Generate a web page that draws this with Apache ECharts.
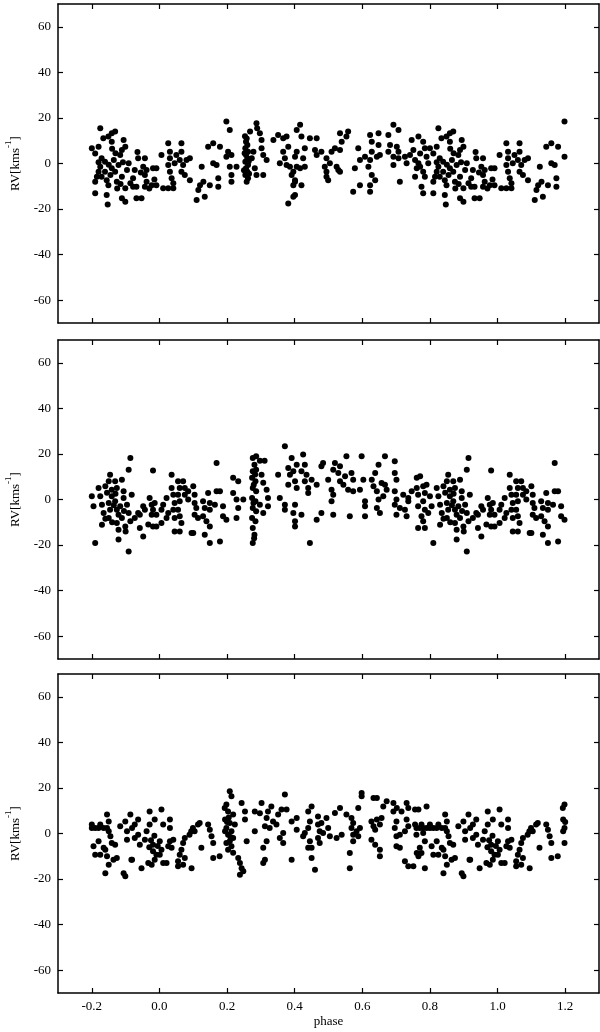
<!DOCTYPE html>
<html>
<head>
<meta charset="utf-8">
<script src="https://cdn.jsdelivr.net/npm/echarts@6/dist/echarts.min.js"></script>
<style>html,body{margin:0;padding:0;background:#fff}#c{width:600px;height:1032px}</style>
</head>
<body>
<div id="c"></div>
<script>
// Tick labels
const xTicks = [-0.2, 0.0, 0.2, 0.4, 0.6, 0.8, 1.0, 1.2];
const yTicks = [-60, -40, -20, 0, 20, 40, 60];

// Phased radial velocities [phase (0..1), RV km/s]
const panel1 = [
[0.006,3.7],[0.011,-10.9],[0.026,-10.9],[0.041,-10.9],[0.026,8.9],[0.031,5.2],[0.031,2.3],[0.026,-0.7],[0.031,-3.6],[0.036,-6.5],[0.041,-8.7],[0.045,0.1],[0.050,3.7],[0.065,8.9],[0.065,5.2],[0.060,1.5],[0.070,-0.7],[0.080,1.5],[0.090,2.3],[0.065,-3.6],[0.075,-5.1],[0.090,-7.3],[0.110,-16],[0.115,-11.6],[0.120,-9.5],[0.130,-8],[0.134,-14.6],[0.125,-1.4],[0.149,-9.5],[0.144,7.4],[0.159,8.9],[0.179,7.4],[0.159,0.1],[0.169,-0.7],[0.174,-6.5],[0.174,-10.2],[0.198,18.4],[0.208,14.7],[0.203,5.2],[0.198,3],[0.213,3.7],[0.208,-1.4],[0.213,-5.1],[0.213,-8],[0.228,-1.4],
[0.253,12],[0.258,11],[0.256,9.6],[0.260,8.1],[0.254,6.7],[0.262,5.2],[0.256,3.7],[0.260,2.3],[0.254,0.8],[0.262,-0.7],[0.256,-2.1],[0.260,-3.6],[0.254,-5.1],[0.262,-6.5],[0.258,-8],[0.252,4.5],[0.264,1],[0.250,-3],[0.265,-4.5],
[0.268,14],[0.273,2.3],[0.278,5.2],[0.282,-2.1],[0.287,17.7],[0.289,15.5],[0.297,13.3],[0.302,10.3],[0.302,6.7],[0.307,3.7],[0.307,-5.1],[0.287,-5.1],[0.317,1.5],[0.337,10.3],[0.351,12.5],[0.366,11.1],[0.376,11.8],[0.381,7.4],[0.366,5.2],[0.371,2.3],[0.356,0.1],[0.376,-0.7],[0.386,-1.4],[0.396,-3.6],[0.391,-5.1],[0.401,-7.3],[0.396,-9.5],[0.381,-17.5],[0.396,-14.6],
[0.406,14.7],[0.416,17],[0.406,5.2],[0.401,3],[0.420,11.8],[0.430,6.7],[0.425,2.3],[0.430,-1.4],[0.401,-8],[0.401,-13.8],[0.420,-9.5],[0.406,-1.4],[0.416,-2.1],[0.445,11.1],[0.465,11.1],[0.460,5.9],[0.465,3.7],[0.479,5.2],[0.494,2.3],[0.489,-1.4],[0.494,-3.6],[0.494,-5.8],[0.499,-7.3],[0.504,0.1],[0.509,5.2],[0.519,6.7],[0.534,5.9],[0.539,9.6],[0.534,13.3],[0.558,14],[0.553,11.8],[0.524,-1.4],[0.529,-2.9],[0.534,-3.6],[0.578,-2.1],[0.588,6.7],[0.593,1.5],[0.593,-9.5],[0.573,-12.4],[0.608,3],[0.623,12.5],[0.628,9.6],[0.628,5.2],[0.623,1.5],[0.618,-1.4],[0.628,-5.1],[0.623,-9.5],[0.623,-12.4],[0.638,-7.3],[0.648,13.3],[0.648,8.1],[0.643,3],[0.652,3.7],[0.677,12.5],[0.692,17],[0.707,14.7],[0.682,8.1],[0.677,5.2],[0.692,3],[0.702,7.4],[0.707,5.2],[0.692,-0.7],[0.707,2.3],[0.711,-8],[0.726,3],[0.731,0.1],[0.741,3.7],[0.746,10.3],[0.751,5.9],[0.766,11.8],[0.756,1.5],[0.766,0.1],[0.771,4.4],[0.780,9.6],[0.785,6.7],[0.790,3],[0.795,0.1],[0.761,-2.1],[0.771,-1.4],[0.780,-3.6],[0.785,-5.8],[0.756,-5.8],[0.775,-10.2],[0.780,-13.1],
[0.800,6.7],[0.810,4.4],[0.820,7.4],[0.825,15.5],[0.834,11.1],[0.849,11.8],[0.859,13.3],[0.869,14],[0.859,9.6],[0.829,2.3],[0.839,0.8],[0.825,-1.4],[0.820,-3.6],[0.815,-5.8],[0.810,-8],[0.810,-13.1],[0.829,-5.8],[0.839,-3.6],[0.844,-7.3],[0.849,-9.5],[0.844,-13.8],[0.847,-18],[0.859,-2.1],[0.869,-3.6],[0.874,-8],[0.879,-0.7],[0.884,3.7],[0.889,5.9],[0.894,10.3],[0.899,7.4],[0.889,-5.8],[0.899,-10.9],[0.889,-15.3],[0.904,-2.9],[0.909,0.1],[0.914,-8.7],[0.899,-16.8],
[0.855,-5],[0.865,1.5],[0.875,-11],[0.885,-9],[0.870,4.5],[0.892,0.5],[0.850,-0.5],[0.820,0.5],[0.860,6.5],
[0.922,-6.5],[0.922,-10.2],[0.932,-10.2],[0.932,-15.3],[0.947,-15.3],[0.937,2.3],[0.957,2.3],[0.952,-1.4],[0.962,-2.9],[0.957,-5.1],[0.981,-2.1],[0.991,-2.1],[0.962,-8],[0.977,-9.5],[0.957,-10.2],[0.991,-9.5],[0.927,-2.9],[0.935,5],[0.945,-4],[0.970,-11],[0.985,-7]
];

const panel2 = [
[0.006,-10.3],[0.011,-2.3],[0.006,-4.5],[0.021,0.7],[0.021,-8.1],[0.026,-5.9],[0.036,10.9],[0.036,5],[0.041,2.1],[0.045,-1.5],[0.041,-4.5],[0.045,-8.1],[0.045,-14],[0.055,8],[0.060,5],[0.055,2.1],[0.060,-0.8],[0.055,-4.5],[0.060,-7.4],[0.065,-10.3],[0.060,-14],[0.070,8],[0.075,5],[0.075,2.1],[0.085,0],[0.085,3.6],[0.100,5.8],[0.104,2.1],[0.104,-1.5],[0.109,-3.7],[0.104,-6.7],[0.114,-8.1],[0.095,-14.7],[0.100,-14.7],[0.129,-0.8],[0.134,-3.7],[0.129,-7.4],[0.144,2.9],[0.149,-1.5],[0.149,-4.5],[0.139,-9.6],[0.149,-11.8],[0.134,-15.5],[0.149,-19.1],[0.169,16],[0.169,3.6],[0.179,3.6],[0.164,-2.3],[0.188,-3],[0.188,-7.4],[0.179,-18.4],[0.198,-8.9],[0.218,9.5],[0.233,8],[0.218,2.9],[0.228,0],[0.233,-3.7],[0.228,-8.1],[0.248,0],
[0.276,18.2],[0.286,19],[0.281,15.3],[0.276,12.4],[0.286,13.1],[0.274,9.5],[0.284,8],[0.276,5],[0.286,3.6],[0.274,0.7],[0.284,-0.8],[0.276,-3.7],[0.286,-5.2],[0.274,-8.1],[0.284,-9.6],[0.276,-12.5],[0.281,-15.5],[0.276,-19.1],[0.280,-17],[0.283,11],[0.278,-1.5],[0.279,6.5],
[0.297,17],[0.311,17],[0.302,10.9],[0.307,7.3],[0.317,4.3],[0.321,0.7],[0.321,-3],[0.307,-5.9],[0.297,-2.3],[0.351,10.9],[0.356,0.7],[0.371,23.4],[0.371,-2.3],[0.371,-4.5],[0.381,13.8],[0.391,18.2],[0.386,10.9],[0.396,12.4],[0.381,6.5],[0.401,8],[0.406,5],[0.401,-2.3],[0.396,-5.9],[0.401,-9.6],[0.401,-11.8],[0.406,15.3],
[0.420,-6.7],[0.425,19.7],[0.430,15.3],[0.420,12.4],[0.435,10.9],[0.430,8],[0.440,5],[0.450,8.7],[0.465,6.5],[0.440,2.9],[0.445,-19.1],[0.465,-8.9],[0.479,-5.9],[0.484,16],[0.479,14.6],[0.499,8.7],[0.509,-0.8],[0.514,2.1],[0.509,4.3],[0.514,-6.7],[0.514,13.1],[0.519,16],[0.529,11.6],[0.534,14.6],[0.534,8],[0.544,6.5],[0.553,19],[0.549,10.2],[0.558,4.3],[0.568,11.6],[0.573,8.7],[0.573,3.6],[0.563,-7.4],[0.593,4.3],[0.598,19],[0.603,8.7],[0.608,-0.8],[0.608,-3],[0.608,-7.4],[0.628,8.7],[0.633,5.8],[0.638,11.6],[0.648,15.3],[0.643,3.6],[0.648,0],[0.643,-3.7],[0.652,-5.9],[0.657,7.2],[0.667,19],[0.667,6.5],[0.662,1.4],[0.672,4.3],[0.696,16.8],[0.696,11.6],[0.701,8.7],[0.696,3.6],[0.701,0],[0.696,-2.3],[0.711,-3.7],[0.721,2.1],[0.701,-6.7],[0.726,-4.5],[0.736,0.7],[0.736,-0.8],[0.746,3.6],[0.731,-7.4],[0.761,9.5],[0.771,10.2],[0.761,5],[0.765,2.1],[0.765,-3],[0.780,5.8],[0.785,2.9],[0.780,-0.8],[0.785,-4.5],[0.775,-7.4],[0.780,-9.6],[0.765,-12.5],[0.785,-12.5],[0.790,6.5],
[0.800,1.4],[0.805,-3],[0.795,-5.9],[0.810,-19.1],[0.820,5],[0.825,1.4],[0.830,-2.3],[0.835,-5.9],[0.830,-11.1],[0.840,5.8],[0.850,8],[0.854,10.9],[0.859,4.3],[0.859,1.4],[0.850,-1.5],[0.854,-4.5],[0.850,-8.1],[0.869,8],[0.874,5],[0.869,-0.8],[0.874,-4.5],[0.879,-6.7],[0.874,-10.3],[0.879,-13.3],[0.879,-17.6],[0.889,8.7],[0.894,3.6],[0.894,0.7],[0.889,-8.1],[0.899,-11.8],[0.909,13.1],[0.914,18.2],[0.904,-2.3],[0.909,-5.9],[0.914,-9.6],[0.909,-22.8],[0.918,2.1],
[0.860,-10],[0.865,-2.5],[0.884,-3],[0.870,2.5],[0.845,3],[0.895,-5],[0.900,-14],[0.840,-8.5],
[0.937,-5.9],[0.927,-8.1],[0.942,-6.7],[0.942,-12.5],[0.952,-16.2],[0.952,-3],[0.957,-4.5],[0.971,0.7],[0.967,-11],[0.977,-2.3],[0.981,-4.5],[0.986,-1.5],[0.991,-6.7],[0.981,-11.8],[0.991,-11.8],[0.977,-6.7],[0.981,12.7]
];

const panel3 = [
[0.001,-3.4],[0.001,-9.3],[0.006,10.5],[0.011,3.9],[0.006,-7.1],[0.011,-13],[0.021,-13],[0.026,-5.6],[0.031,6.1],[0.031,2.4],[0.031,-3.4],[0.036,-6.3],[0.041,-2.7],[0.055,-14.4],[0.055,-12.2],[0.060,-9.3],[0.065,-7.1],[0.070,-4.2],[0.075,-2],[0.089,-0.5],[0.094,1],[0.099,2.4],[0.104,1],[0.114,3.9],[0.119,4.6],[0.124,-6.3],[0.095,-15.2],[0.070,-13.7],[0.075,-10.8],[0.144,3.9],[0.149,1.7],[0.154,-1.2],[0.159,-4.2],[0.159,-10.8],[0.178,-10],[0.193,11.2],
[0.208,18.5],[0.213,16.3],[0.198,12.7],[0.203,9.7],[0.218,8.3],[0.194,6.1],[0.208,4.6],[0.223,3.9],[0.198,2.4],[0.213,1],[0.203,-0.5],[0.218,-2],[0.198,-4.2],[0.213,-5.6],[0.203,-7.1],[0.218,-8.5],[0.208,-3.4],[0.194,1],[0.205,7],[0.210,-1.5],[0.200,5],
[0.233,-10.8],[0.238,-13],[0.243,-15.2],[0.238,-18.1],[0.248,-16.6],[0.243,13.4],[0.253,9.7],[0.253,6.1],[0.258,-3.4],[0.282,9.7],[0.282,1],[0.297,8.9],[0.302,13.4],[0.307,-6.3],[0.317,-3.4],[0.312,3.2],[0.317,6.8],[0.321,9.7],[0.331,11.9],[0.326,2.4],[0.336,5.3],[0.346,3.9],[0.351,8.3],[0.361,10.5],[0.371,17.1],[0.376,10.5],[0.366,0.2],[0.356,-2],[0.366,-4.2],[0.307,-13],[0.312,-11.5],[0.391,5.3],[0.391,-11.5],[0.406,1.7],[0.406,6.8],
[0.440,9.7],[0.450,11.9],[0.445,5.3],[0.440,2.4],[0.430,0.2],[0.425,-1.2],[0.445,-3.4],[0.440,-6.3],[0.450,-6.3],[0.450,-10.8],[0.460,-15.9],[0.469,7.5],[0.469,3.9],[0.474,1],[0.469,-2],[0.474,-4.2],[0.479,4.6],[0.484,0.2],[0.494,6.8],[0.499,2.4],[0.504,-1.2],[0.519,9],[0.534,11.2],[0.524,-2],[0.539,-0.5],[0.553,8.3],[0.563,-8.6],[0.563,-15.2],[0.568,6.8],[0.573,4.6],[0.568,2.4],[0.573,-0.5],[0.573,-3.4],[0.583,1],[0.588,-1.2],[0.593,2.4],[0.588,11.2],[0.598,17.8],[0.598,16.3],[0.627,-2.7],[0.627,5.3],[0.633,15.6],[0.643,15.6],[0.633,3.2],[0.638,1.7],[0.643,6.1],[0.652,3.9],[0.657,6.8],[0.662,11.9],[0.638,-4.9],[0.652,-7.1],[0.652,-10],[0.672,14.1],[0.692,13.4],[0.692,9.7],[0.702,11.2],[0.716,9.7],[0.731,13.4],[0.736,11.2],[0.701,5.3],[0.696,2.4],[0.701,-1.2],[0.711,-0.5],[0.731,6.1],[0.736,3.2],[0.726,1],[0.701,-5.6],[0.711,-6.3],[0.726,-12.2],[0.736,-14.4],[0.751,-14.4],[0.756,10.5],[0.766,10.5],[0.790,11.9],[0.756,3.9],[0.760,2.4],[0.770,2.4],[0.780,2.4],[0.790,2.4],
[0.800,2.4],[0.810,2.4],[0.820,2.4],[0.835,2.4],[0.845,2.4],[0.775,3.9],[0.800,3.9],[0.825,3.9],[0.850,5.3],[0.845,8.3],[0.850,1],[0.760,-0.5],[0.780,0.2],[0.785,-3.4],[0.770,-6.3],[0.761,-8.6],[0.766,-10],[0.775,-8.6],[0.785,-15.2],[0.805,-5.6],[0.820,-3.4],[0.810,-9.3],[0.825,-9.3],[0.835,-6.3],[0.840,-7.1],[0.845,-10],[0.855,-1.2],[0.859,-4.2],[0.869,-4.9],[0.850,-13.7],[0.864,-11.5],[0.874,-10.8],[0.840,-17.4],[0.884,3.2],[0.899,5.3],[0.904,1],[0.904,-2.7],[0.914,8.3],[0.919,2.4],[0.919,-11.5],[0.894,-17.4],[0.899,-18.8],
[0.927,3.9],[0.937,6.1],[0.937,-0.5],[0.942,-4.9],[0.927,-2],[0.917,-11.5],[0.947,-15.2],[0.957,-2.7],[0.962,1],[0.971,9.7],[0.971,3.9],[0.967,-13],[0.977,-13.7],[0.981,-4.9],[0.986,6.1],[0.981,-7.8],[0.991,-9.3],[0.986,-11.5],[0.975,-3],[0.985,-1],[0.995,-5.5],[0.970,-6]
];

const panels = [panel1, panel2, panel3];

// Phase plot: phases 0.8..1.0 are also shown at -0.2..0.0 and 0.0..0.2 at 1.0..1.2
function unfold(base) {
  const out = [];
  base.forEach(([p, v]) => {
    out.push([p, v]);
    if (p >= 0.8) out.push([p - 1, v]);
    if (p <= 0.2) out.push([p + 1, v]);
  });
  return out;
}

const FONT = 'Liberation Serif';
const gridTops = [4, 340, 674];
const grids = [], xAxes = [], yAxes = [], series = [];
const lineStyle = { color: '#000', width: 1.5 };
const tickStyle = { color: '#000', width: 1.2 };

panels.forEach((base, i) => {
  grids.push({ left: 58, right: 1, top: gridTops[i], height: 319, containLabel: false, outerBoundsMode: 'none' });
  const last = i === panels.length - 1;
  ['bottom', 'top'].forEach((pos, k) => {
    xAxes.push({
      gridIndex: i, type: 'value', position: pos, min: -0.3, max: 1.3,
      axisLine: { show: true, onZero: false, lineStyle },
      axisTick: { show: true, inside: true, length: 5, customValues: xTicks, lineStyle: tickStyle },
      axisLabel: { show: last && k === 0, customValues: xTicks, formatter: v => v.toFixed(1),
        fontFamily: FONT, fontSize: 13, color: '#000', margin: 7 },
      splitLine: { show: false },
      name: (last && k === 0) ? 'phase' : '', nameLocation: 'middle', nameGap: 22,
      nameTextStyle: { fontFamily: FONT, fontSize: 13, color: '#000' }
    });
  });
  ['left', 'right'].forEach((pos, k) => {
    yAxes.push({
      gridIndex: i, type: 'value', position: pos, min: -70, max: 70,
      axisLine: { show: true, onZero: false, lineStyle },
      axisTick: { show: true, inside: true, length: 5, customValues: yTicks, lineStyle: tickStyle },
      axisLabel: { show: k === 0, customValues: yTicks, fontFamily: FONT, fontSize: 13, color: '#000', margin: 7 },
      splitLine: { show: false },
      name: k === 0 ? '{n|RV[kms}{s|-1}{n|]}' : '', nameLocation: 'middle', nameGap: 36, nameRotate: 90,
      nameTextStyle: { rich: {
        n: { fontFamily: FONT, fontSize: 13, color: '#000', lineHeight: 18, verticalAlign: 'bottom' },
        s: { fontFamily: FONT, fontSize: 9, color: '#000', lineHeight: 9, verticalAlign: 'top' }
      } }
    });
  });
  series.push({
    type: 'scatter', xAxisIndex: 2 * i, yAxisIndex: 2 * i,
    data: unfold(base), symbol: 'circle', symbolSize: 6,
    itemStyle: { color: '#000', opacity: 1 }, silent: true, animation: false
  });
});

const chart = echarts.init(document.getElementById('c'), null, { renderer: 'canvas' });
chart.setOption({
  backgroundColor: '#fff', animation: false,
  grid: grids, xAxis: xAxes, yAxis: yAxes, series
});
</script>
</body>
</html>
